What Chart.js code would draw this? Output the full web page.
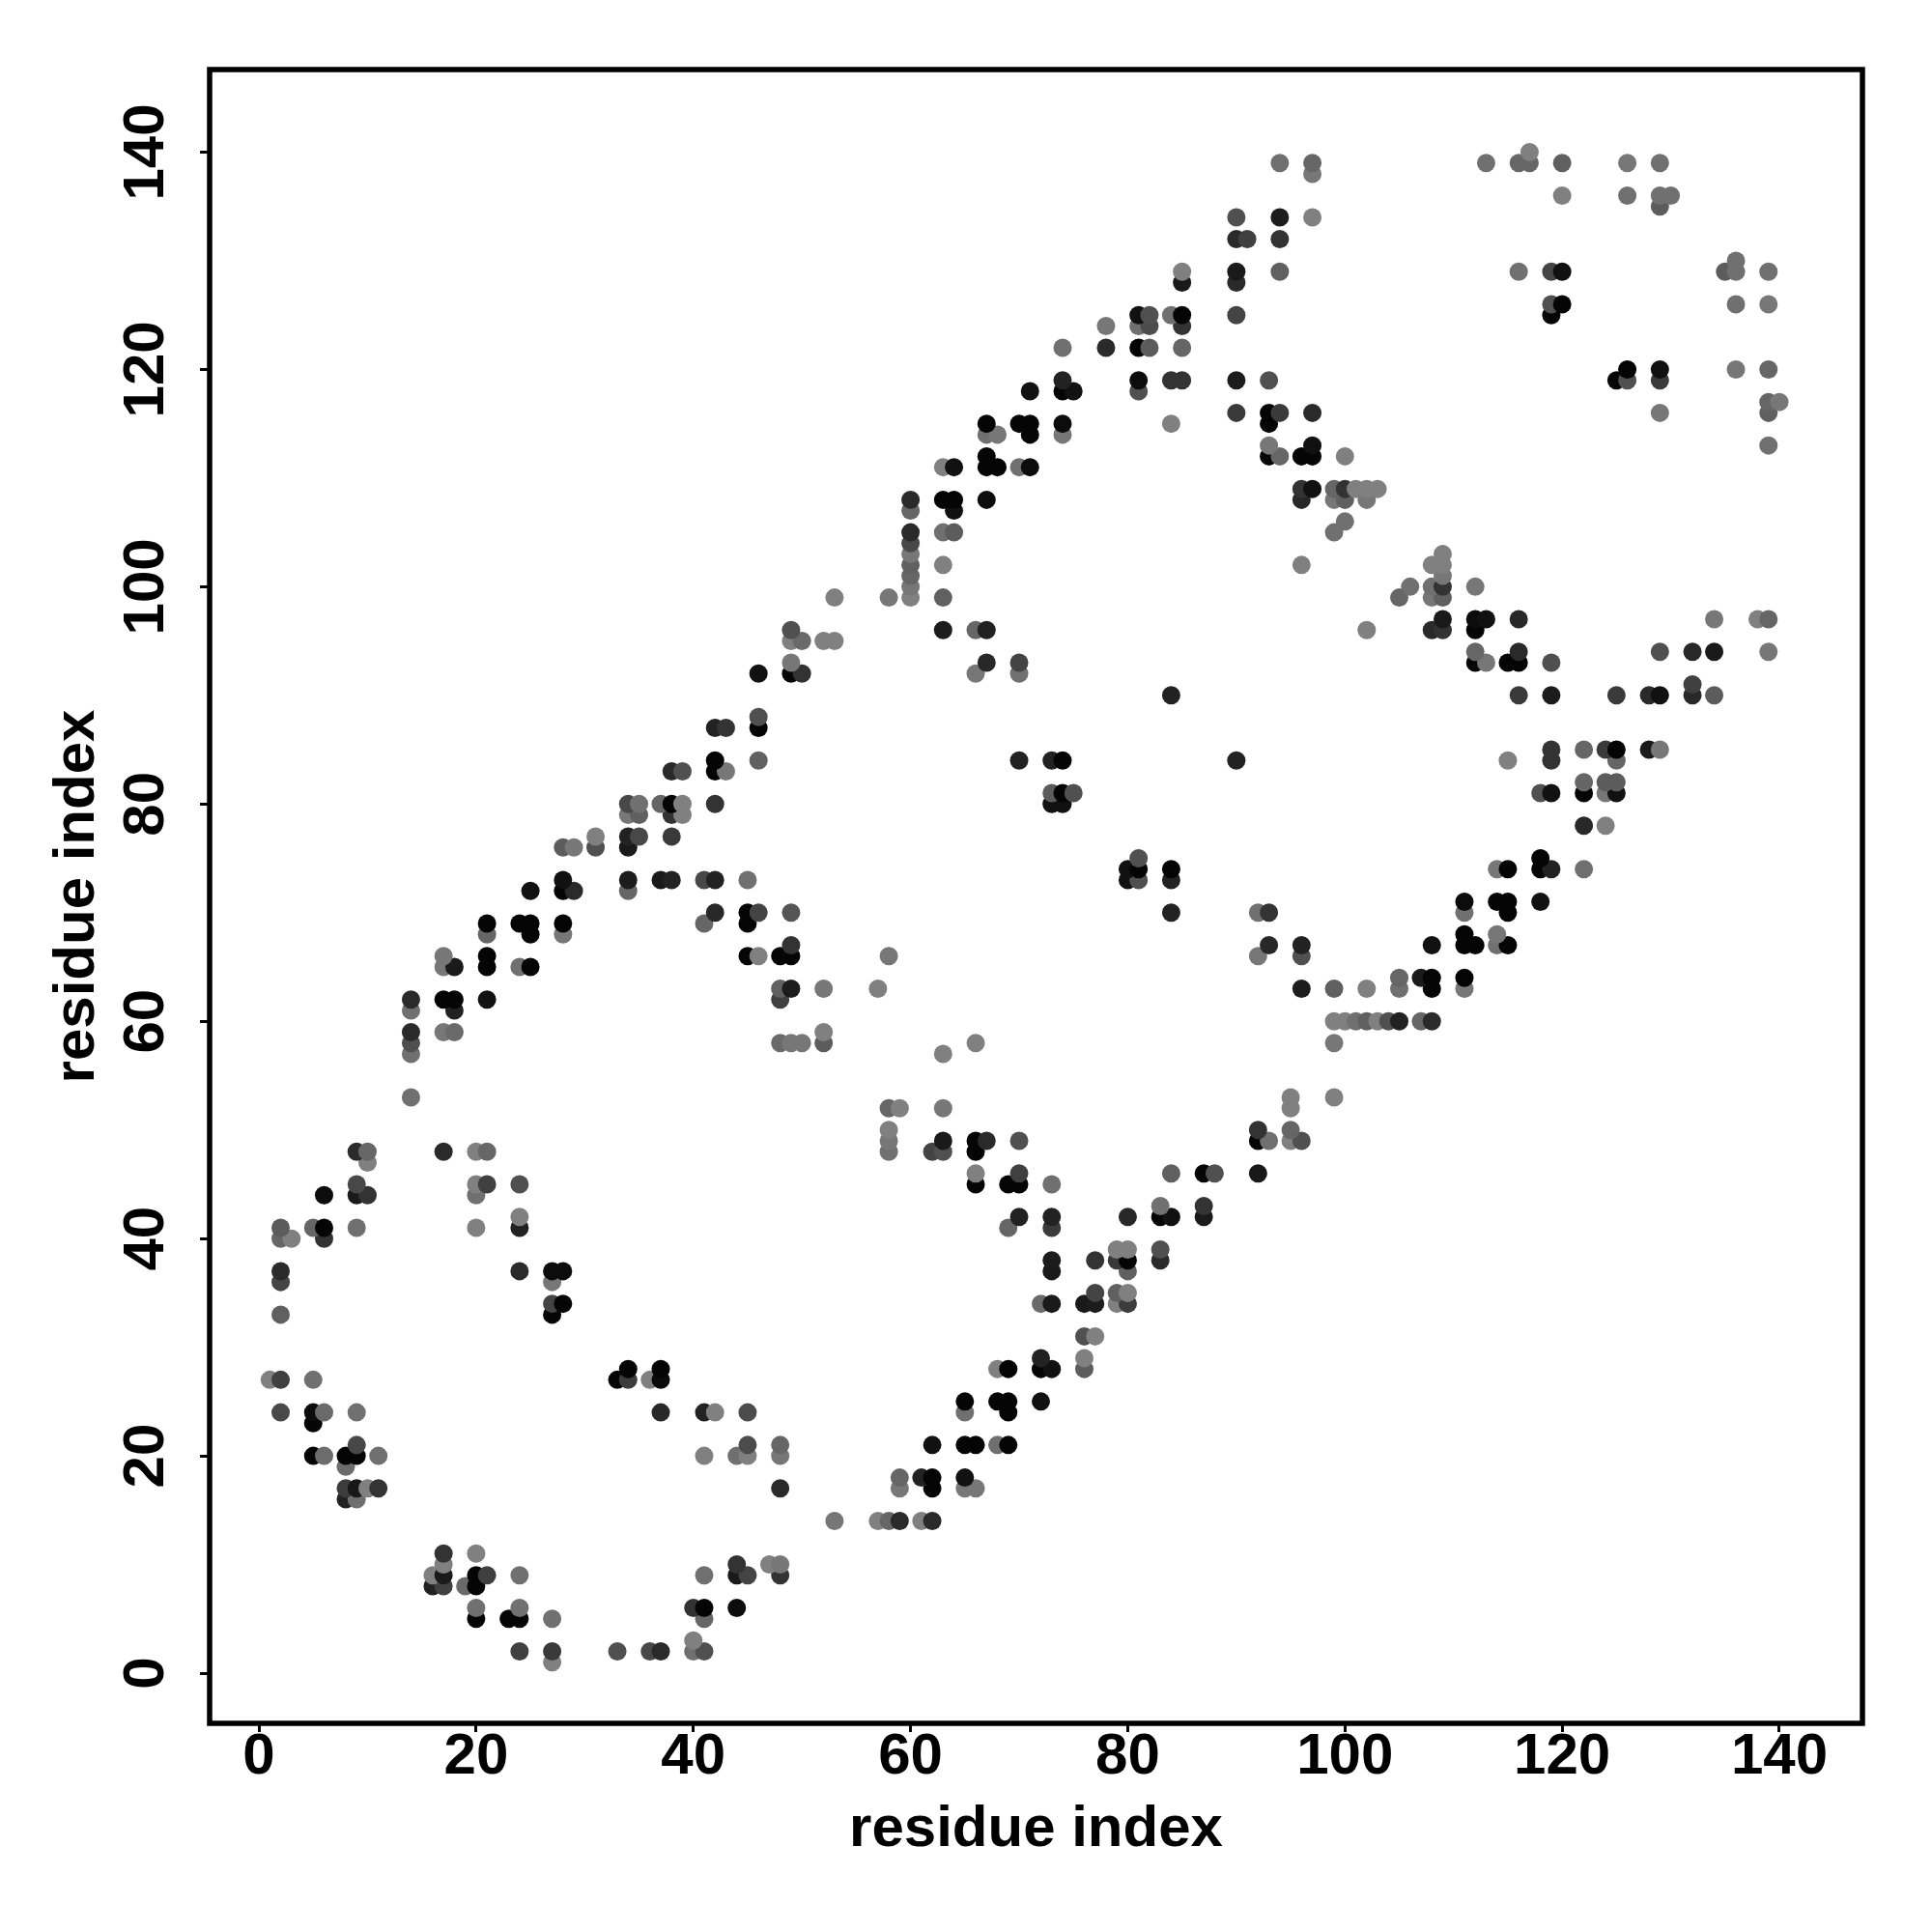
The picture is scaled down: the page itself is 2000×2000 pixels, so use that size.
<!DOCTYPE html>
<html>
<head>
<meta charset="utf-8">
<title>residue contacts</title>
<script src="https://cdn.jsdelivr.net/npm/chart.js@4"></script>
<style>
    body { margin: 0; background: #fff; }
</style>
</head>
<body>
<canvas id="contactChart" width="2000" height="2000"></canvas>
<script>
// --------- DATA -------------------------------------------
const tickValues = [0, 20, 40, 60, 80, 100, 120, 140];
const axisLabel = 'residue index';

// one entry per row of points, drawn bottom row first
const rowY = [1, 2, 3, 5, 6, 8, 9, 10, 11, 14, 16, 17, 18, 19, 20, 21, 23, 24, 25, 27, 28, 29, 31, 33, 34, 35, 36, 37, 38, 39, 40, 41, 42, 43, 44, 45, 46, 47, 48, 49, 50, 52, 53, 57, 58, 59, 60, 61, 62, 63, 64, 65, 66, 67, 68, 69, 70, 71, 72, 73, 74, 75, 76, 77, 78, 79, 80, 81, 82, 83, 84, 85, 87, 88, 90, 91, 92, 93, 94, 95, 96, 97, 99, 100, 101, 102, 103, 104, 105, 106, 107, 108, 109, 111, 112, 113, 114, 115, 116, 117, 118, 119, 120, 122, 124, 125, 126, 128, 129, 130, 132, 134, 135, 136, 138, 139, 140];

const rowX = [
    [27], [24, 27, 33, 36, 37, 40, 41], [40], [20, 23, 24, 27, 41], [20, 24, 40, 41, 44],
    [16, 17, 19, 20], [16, 17, 20, 21, 24, 41, 44, 45, 48], [17, 44, 47, 48], [17, 20],
    [53, 57, 58, 59, 61, 62], [8, 9], [8, 9, 10, 11, 48, 59, 62, 65, 66], [59, 61, 62, 65], [8],
    [5, 6, 8, 9, 11, 41, 44, 45, 48], [9, 45, 48, 62, 65, 66, 68, 69], [5],
    [2, 5, 6, 9, 37, 41, 42, 45, 65, 69], [65, 68, 69, 72], [1, 2, 5, 33, 34, 36, 37],
    [34, 37, 68, 69, 72, 73, 76], [72, 76], [76, 77], [2, 27],
    [27, 28, 72, 73, 76, 77, 79, 80], [77, 79, 80], [2, 27], [2, 24, 27, 28, 73, 80],
    [73, 77, 79, 80, 83], [79, 80, 83], [2, 3, 6], [2, 5, 6, 9, 20, 24, 69, 73],
    [24, 70, 73, 80, 83, 84, 87], [83, 87], [6, 9, 10, 20], [9, 20, 21, 24, 66, 69, 70, 73],
    [66, 70, 84, 87, 88, 92], [10], [9, 10, 17, 20, 21, 58, 62, 63, 66],
    [58, 63, 66, 67, 70, 92, 93, 95, 96], [58, 92, 95], [58, 59, 63, 95], [14, 95, 99], [14, 63],
    [14, 48, 49, 50, 52, 66, 99], [14, 17, 18, 52], [99, 100, 101, 102, 103, 104, 105, 107, 108],
    [14, 18], [14, 17, 18, 21, 48], [48, 49, 52, 57, 96, 99, 102, 105, 108, 111],
    [105, 107, 108, 111], [17, 18, 21, 24, 25], [17, 21, 45, 46, 48, 49, 58, 92, 96],
    [49, 93, 96, 108, 111, 112, 114, 115], [21, 25, 28, 111, 114], [21, 24, 25, 28, 41, 45],
    [42, 45, 46, 49, 84, 92, 93, 111, 115], [111, 114, 115, 118], [25, 28, 29, 34],
    [28, 34, 37, 38, 41, 42, 45, 80, 81, 84], [80, 81, 84, 114, 115, 118, 119, 122], [81, 118],
    [28, 29, 31, 34], [31, 34, 35, 38], [122, 124], [34, 35, 38, 39],
    [34, 35, 37, 38, 39, 42, 73, 74], [73, 74, 75, 118, 119, 122, 124, 125], [122, 124, 125],
    [38, 39, 42, 43], [42, 46, 70, 73, 74, 90, 115, 119, 125], [119, 122, 124, 125, 128, 129],
    [42, 43, 46], [46], [84, 116, 119, 125, 128, 129, 132, 134], [132], [46, 49, 50, 66, 70],
    [49, 67, 70, 112, 113, 115, 116, 119], [112, 116, 129, 132, 134, 139], [49, 50, 52, 53],
    [49, 63, 66, 67, 102, 108, 109, 112], [109, 112, 113, 116, 134, 138, 139],
    [53, 58, 60, 63, 105, 108, 109], [60, 106, 108, 109, 112], [60, 109], [60, 63, 96, 108, 109],
    [60, 109], [60], [60, 63, 64, 99], [100], [60, 64], [60, 63, 64, 67, 96, 99, 100, 102],
    [96, 97, 99, 100, 101, 102, 103], [63, 64, 67, 68, 70, 71], [67, 93, 94, 96, 97, 100],
    [93, 97, 139], [67, 68, 71, 74], [67, 70, 71, 74, 84, 93], [90, 93, 94, 97, 129, 139],
    [139, 140], [71, 74, 75, 81], [74, 81, 84, 85, 90, 93, 125, 126, 129], [126, 129, 136, 139],
    [74, 78, 81, 82, 85], [78, 81, 82, 85], [81, 82, 84, 85, 90, 119], [119, 120, 136, 139],
    [85, 90], [85, 90, 94, 116, 119, 120, 135, 136, 139], [136], [90, 91, 94], [90, 94, 97], [129],
    [120, 126, 129, 130], [97], [94, 97, 113, 116, 117, 120, 126, 129], [117]
];

// grey level of each point, same layout as rowX
const rowGray = [
    [128], [64, 58, 80, 72, 42, 112, 80], [128], [5, 5, 5, 112, 102], [112, 112, 51, 5, 12],
    [34, 64, 106, 5], [128, 26, 5, 64, 112, 112, 26, 68, 51], [128, 51, 128, 119], [51, 128],
    [119, 128, 102, 42, 128, 42], [34, 112], [60, 24, 128, 51, 42, 119, 5, 119, 119], [102, 34, 5, 17], [108],
    [5, 108, 5, 5, 112, 128, 112, 128, 119], [72, 76, 102, 17, 5, 5, 112, 5], [5],
    [72, 12, 106, 112, 40, 34, 128, 76, 112, 5], [5, 5, 5, 17], [128, 64, 112, 5, 60, 128, 12],
    [5, 5, 128, 5, 5, 17, 92], [34, 128], [80, 128], [96, 5],
    [68, 5, 106, 26, 26, 28, 128, 60], [68, 96, 128], [68, 119], [42, 42, 12, 12, 26, 96],
    [28, 51, 58, 5, 42], [128, 128, 80], [102, 128, 51], [92, 102, 5, 112, 128, 34, 102, 58],
    [128, 34, 34, 40, 5, 17, 26], [112, 51], [12, 26, 51, 112], [72, 128, 64, 80, 5, 5, 5, 112],
    [128, 64, 96, 5, 80, 24], [128], [42, 102, 42, 128, 102, 112, 68, 80, 5],
    [119, 26, 5, 42, 80, 5, 112, 128, 80], [128, 51, 102], [102, 128, 119, 128], [112, 128, 128], [112, 128],
    [80, 106, 119, 119, 92, 128, 119], [42, 119, 106, 128], [128, 128, 112, 96, 128, 80, 34, 102, 42],
    [112, 34], [42, 5, 5, 17, 64], [96, 28, 119, 128, 28, 96, 128, 112, 5, 119],
    [102, 26, 5, 5], [119, 26, 5, 112, 5], [119, 5, 5, 128, 5, 5, 119, 119, 80],
    [51, 40, 34, 17, 5, 5, 112, 5], [102, 5, 119, 5, 119], [5, 5, 5, 5, 102, 5],
    [40, 5, 68, 85, 34, 112, 51, 112, 5], [12, 5, 5, 17], [17, 5, 42, 102],
    [17, 28, 26, 34, 72, 34, 112, 17, 80, 34], [17, 5, 5, 119, 5, 5, 34, 112], [80, 5],
    [92, 119, 80, 26], [128, 34, 72, 58], [40, 128], [119, 96, 51, 128],
    [72, 112, 102, 5, 128, 51, 17, 17], [92, 5, 80, 80, 17, 5, 119, 17], [102, 92, 92],
    [42, 80, 5, 119], [5, 96, 34, 34, 5, 34, 128, 51, 102], [51, 102, 58, 5, 26, 119],
    [34, 51, 5], [80], [34, 58, 28, 58, 42, 17, 40, 92], [64], [17, 5, 51, 119, 112],
    [119, 40, 68, 5, 119, 5, 5, 80], [102, 42, 80, 40, 26, 119], [128, 106, 128, 128],
    [80, 28, 102, 34, 128, 42, 51, 5], [26, 12, 17, 40, 119, 128, 102],
    [128, 119, 128, 96, 102, 119, 96], [119, 112, 112, 51, 119], [102, 119], [96, 128, 128, 128, 128],
    [119, 128], [72], [42, 112, 92, 112], [112], [102, 17], [42, 5, 5, 12, 40, 119, 96, 119],
    [51, 17, 102, 51, 128, 128, 128], [128, 17, 5, 5, 112, 12], [5, 5, 102, 5, 5, 128],
    [119, 17, 112], [112, 119, 5, 119], [5, 5, 5, 12, 128, 5], [58, 5, 58, 42, 119, 96],
    [102, 119], [17, 5, 17, 80], [34, 12, 51, 51, 28, 80, 5, 80, 58], [5, 17, 119, 102],
    [112, 42, 5, 92, 102], [119, 112, 76, 51], [17, 80, 112, 5, 68, 5], [80, 5, 112, 119],
    [26, 42], [128, 26, 96, 112, 68, 17, 92, 112, 112], [112], [42, 64, 51], [80, 28, 128], [92],
    [128, 112, 112, 112], [119], [112, 102, 112, 102, 102, 96, 119, 112], [128]
];

// flatten the rows into what the scatter dataset wants
const contactPoints = [];
const contactColors = [];
rowY.forEach((y, r) => {
    rowX[r].forEach((x, c) => {
        const g = rowGray[r][c];
        contactPoints.push({ x: x, y: y });
        contactColors.push('rgb(' + g + ',' + g + ',' + g + ')');
    });
});

// ---------- frame round the plot, chart.js only draws two sides ----------
const plotFrame = {
    id: 'plotFrame',
    afterDraw(chart) {
        const { ctx, chartArea } = chart;
        ctx.save();
        ctx.strokeStyle = '#000';
        ctx.lineWidth = 5.5;
        ctx.strokeRect(chartArea.left, chartArea.top, chartArea.right - chartArea.left, chartArea.bottom - chartArea.top);
        ctx.restore();
    }
};

const axisFont = { family: '"Liberation Sans", Arial, sans-serif', size: 60, weight: 'bold' };

function onlyTickValues(scale) {
    scale.ticks = tickValues.map(v => ({ value: v }));
}

new Chart(document.getElementById('contactChart').getContext('2d'), {
    type: 'scatter',
    data: {
        datasets: [{
            data: contactPoints,
            pointRadius: 9.5,
            pointBorderWidth: 0,
            pointBackgroundColor: contactColors
        }]
    },
    options: {
        responsive: false,
        animation: false,
        layout: { padding: { top: 72, right: 72, left: 0, bottom: 0 } },
        plugins: { legend: { display: false }, tooltip: { enabled: false } },
        scales: {
            x: {
                type: 'linear',
                min: -4.54,
                max: 147.65,
                afterBuildTicks: onlyTickValues,
                afterFit(scale) { scale.height = 216; },
                border: { display: false },
                grid: { drawOnChartArea: false, tickLength: 9, tickWidth: 3, tickColor: '#000' },
                ticks: { color: '#000', font: axisFont, padding: -9.5, maxRotation: 0, autoSkip: false },
                title: { display: true, text: axisLabel, color: '#000', font: axisFont, padding: { top: 0, bottom: 70 } }
            },
            y: {
                type: 'linear',
                min: -4.62,
                max: 147.6,
                afterBuildTicks: onlyTickValues,
                afterFit(scale) { scale.width = 217; },
                border: { display: false },
                grid: { drawOnChartArea: false, tickLength: 10, tickWidth: 3, tickColor: '#000' },
                ticks: { color: '#000', font: axisFont, padding: 4, minRotation: 90, maxRotation: 90, crossAlign: 'center', autoSkip: false },
                title: { display: true, text: axisLabel, color: '#000', font: axisFont, padding: { top: 44, bottom: 0 } }
            }
        }
    },
    plugins: [plotFrame]
});
</script>
</body>
</html>
